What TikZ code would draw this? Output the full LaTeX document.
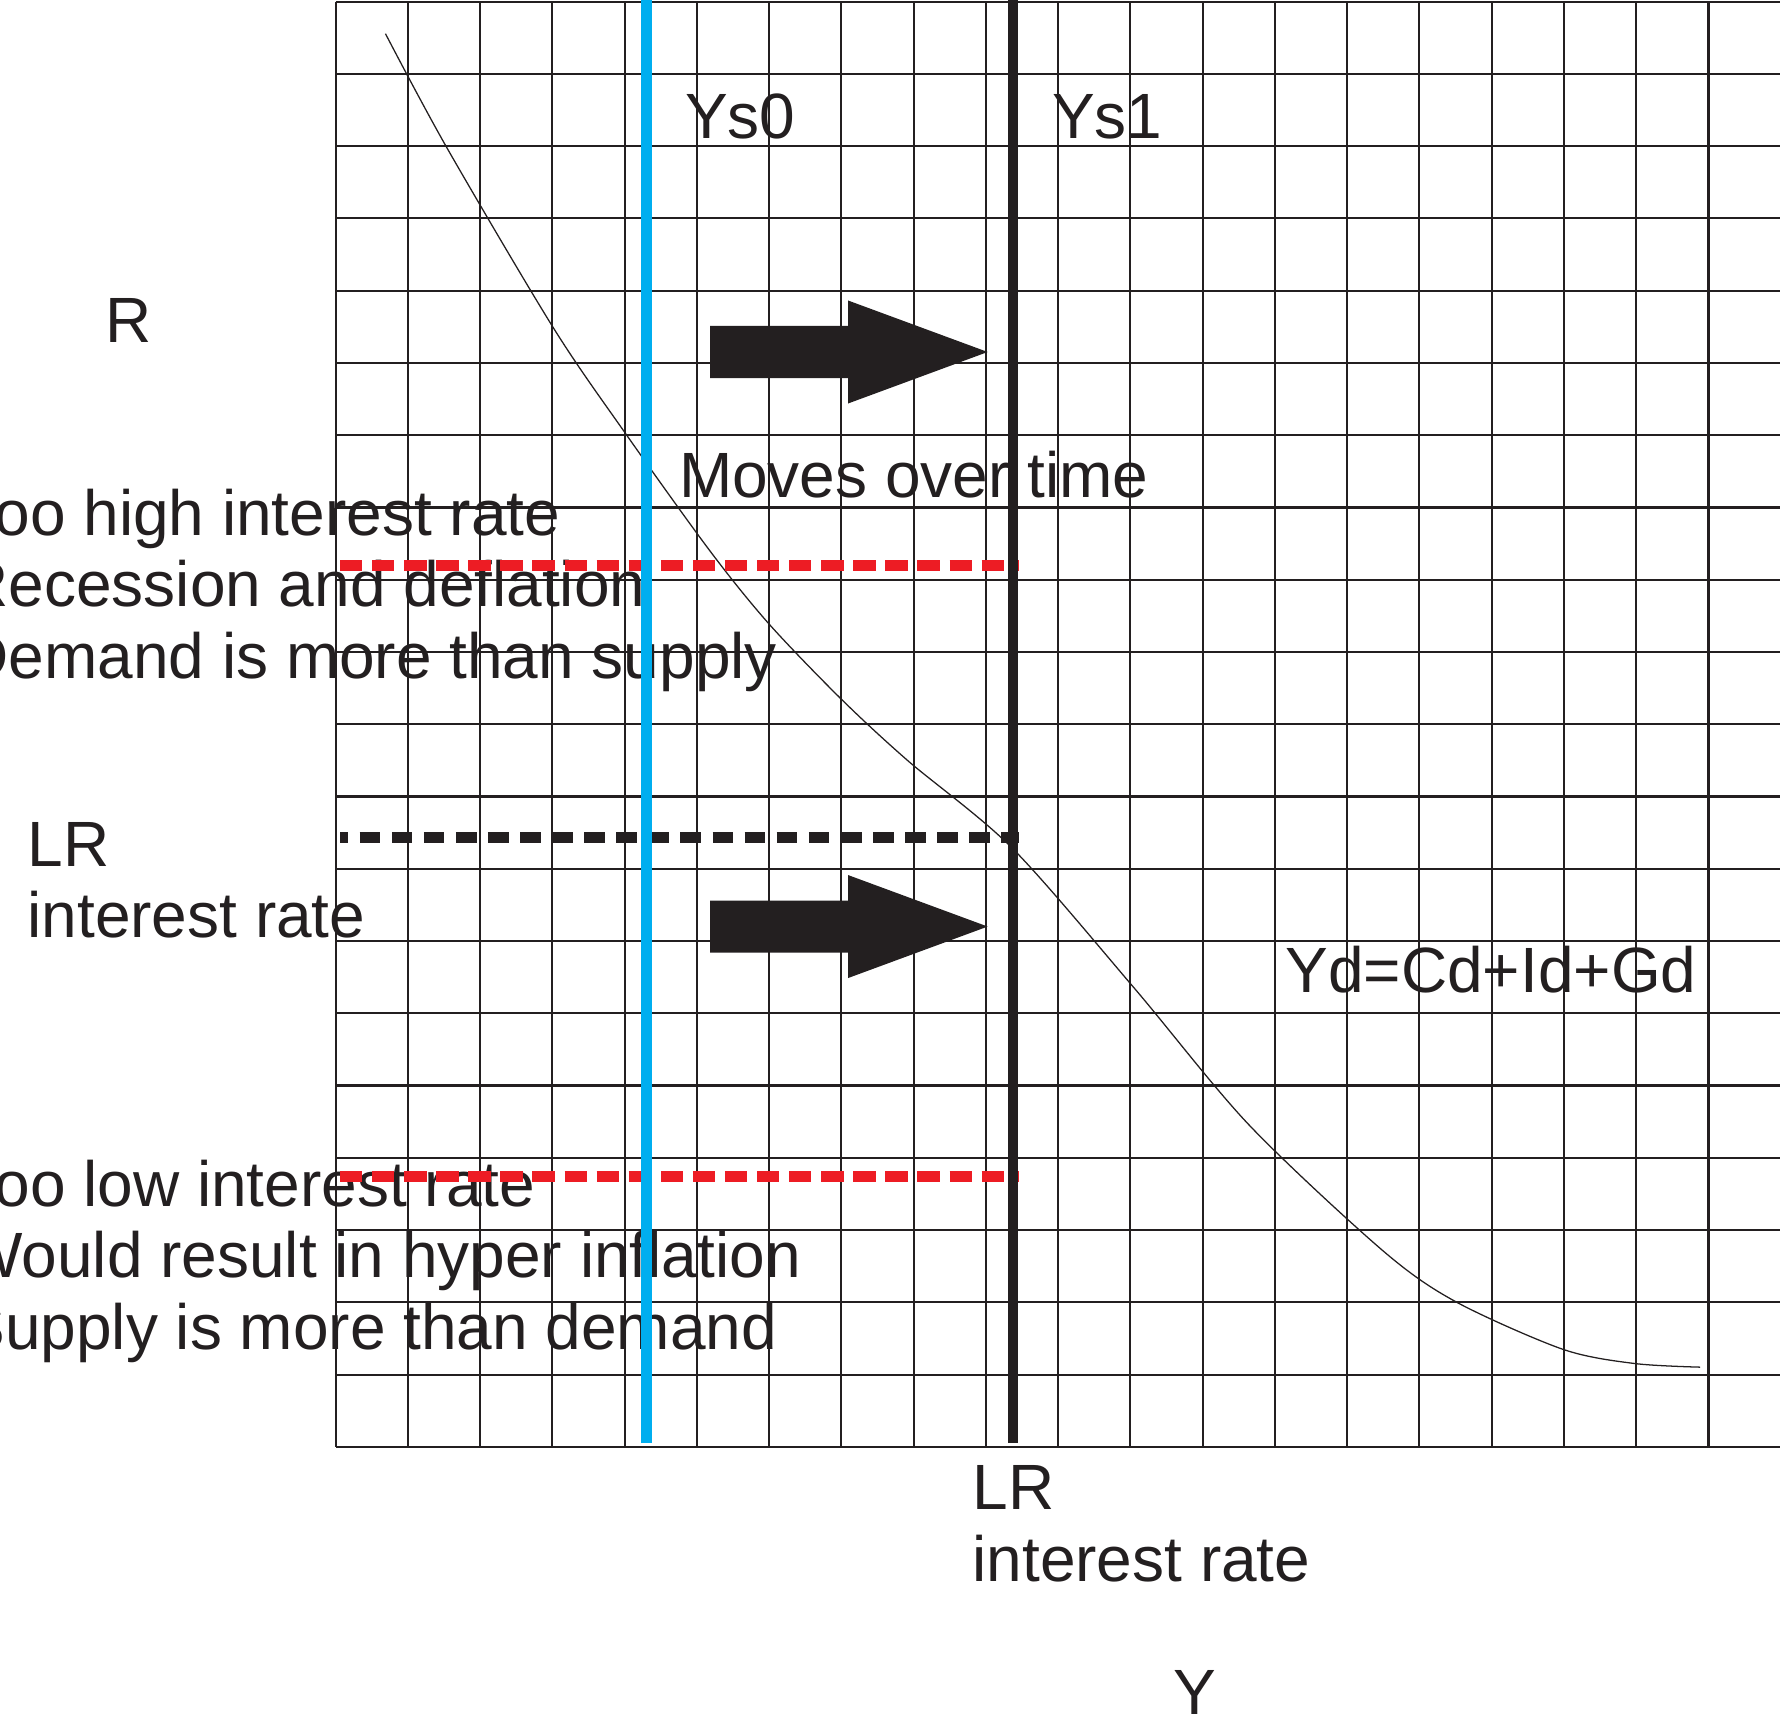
\documentclass[tikz,border=0pt]{standalone}
\usepackage{fontspec}
\setmainfont{Liberation Sans}
\usetikzlibrary{positioning}
\definecolor{inkBlack}{HTML}{231F20}
\definecolor{supplyBlue}{HTML}{00AEEF}
\definecolor{rateRed}{HTML}{ED1C24}

\begin{document}
\begin{tikzpicture}[
    gridLine/.style={draw=inkBlack, line width=0.8pt},
    supplyLine/.style={line width=4.1pt},
    rateDash/.style={line width=4.3pt, dash pattern=on 0.309cm off 0.135cm},
    demandCurve/.style={draw=inkBlack, line width=0.5pt},
    plotLabel/.style={anchor=base west, inner sep=0pt, text=inkBlack, align=left, font=\fontsize{25.2}{28.2}\selectfont},
    shiftArrow/.style={fill=inkBlack}
]
    \clip (-4.646,-3.713) rectangle (19.990,20.024);
    \draw[gridLine] (0,0) grid (20,20);

    % labels (base = last line)
    \node[plotLabel] (rAxis) at (-3.193,15.280) {R};
    \node[plotLabel] (lrLeft) at (-4.273,7.045) {LR\\interest rate};
    \node[plotLabel] (tooHigh) at (-5.172,10.635) {Too high interest rate\\Recession and deflation\\Demand is more than supply};
    \node[plotLabel] (tooLow) at (-5.172,1.348) {Too low interest rate\\Would result in hyper inflation\\Supply is more than demand};
    \node[plotLabel] (ysZero) at (4.829,18.10) {Ys0};
    \node[plotLabel] (ysOne) at (9.910,18.10) {Ys1};
    \node[plotLabel] (movesTime) at (4.746,13.140) {Moves over time};
    \node[plotLabel] (ydSum) at (13.139,6.289) {Yd=Cd+Id+Gd};
    \node[plotLabel] (lrBottom) at (8.806,-1.859) {LR\\interest rate};
    \node[plotLabel] (yAxis) at (11.594,-3.704) {Y};

    % demand curve
    \draw[demandCurve] plot[smooth, tension=0.5] coordinates {
        (0.689,19.557) (1.535,17.986) (3.010,15.491) (4.001,14.039)
        (5.177,12.403) (5.993,11.393) (6.989,10.356) (7.916,9.498)
        (9.368,8.281) (11.056,6.344) (12.633,4.463) (14.486,2.720)
        (15.505,2.006) (16.979,1.351) (17.971,1.153) (18.884,1.102)};

    % rate levels
    \draw[rateDash, rateRed] (0.060,12.200) -- (9.457,12.200);
    \draw[rateDash, inkBlack, dash pattern=on 0.286cm off 0.158cm, dash phase=0.172cm] (0.060,8.428) -- (9.457,8.428);
    \draw[rateDash, rateRed] (0.060,3.744) -- (9.457,3.744);

    % supply lines
    \draw[supplyLine, supplyBlue] (4.299,0.055) -- (4.299,20.2);
    \draw[supplyLine, inkBlack] (9.377,0.055) -- (9.377,20.2);

    % shift arrows
    \foreach \ay in {15.152,7.200} {
        \fill[shiftArrow] (5.181,\ay) ++(0,0.36) -- ++(1.91,0) -- ++(0,0.353)
            -- (9.024,\ay) -- (7.091,\ay-0.713) -- ++(0,0.353) -- (5.181,\ay-0.36) -- cycle;
    }
\end{tikzpicture}
\end{document}
